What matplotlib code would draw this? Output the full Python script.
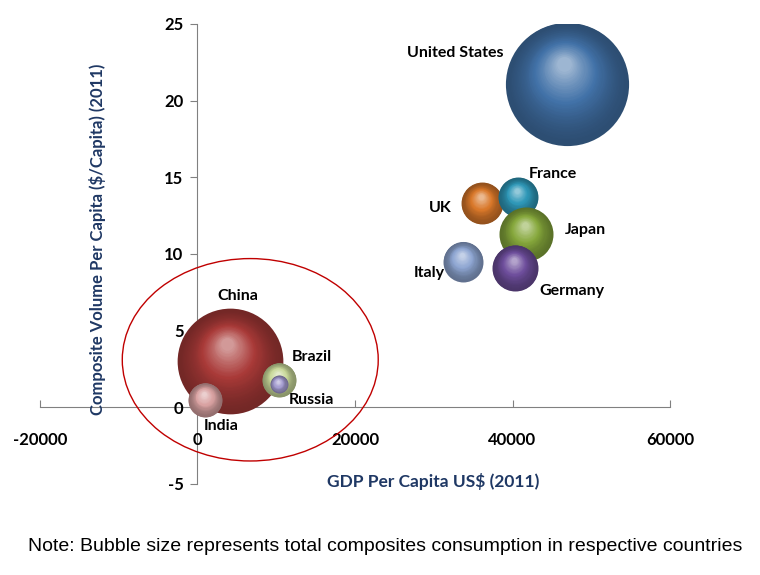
import matplotlib
matplotlib.use("Agg")
import matplotlib.pyplot as plt
import matplotlib.transforms as mtransforms
from matplotlib.patches import Ellipse
from matplotlib.colors import to_rgb
import numpy as np

countries = ["United States", "China", "UK", "France", "Japan", "Germany",
             "Italy", "Brazil", "Russia", "India"]
gdp_per_capita = [46900, 4100, 36100, 40700, 41700, 40300, 33700, 10300, 10300, 950]
volume_per_capita = [21.1, 3.0, 13.3, 13.7, 11.3, 9.1, 9.5, 1.8, 1.5, 0.5]
consumption = [3800, 2800, 440, 400, 730, 530, 400, 290, 80, 290]
colors = ["#4272a8", "#a93a38", "#d9782a", "#2f98b8", "#86a83c", "#6e4e9c",
          "#8ea6d2", "#c9d99a", "#a49cd0", "#d9a2a2"]
label_offsets = [(-80, 22), (6, 47), (-30, -3), (25, 17), (43, 3), (41, -17),
                 (-24, -8), (24, 16), (24, -11), (12, -19)]

x_ticks = [-20000, 0, 20000, 40000, 60000]
y_ticks = [-5, 0, 5, 10, 15, 20, 25]

BOLD = "Lato"
NAVY = "#1f3864"


def shade(c, f):
    c = np.array(to_rgb(c))
    if f < 0:
        return tuple(c * (1 + f))
    return tuple(c + (1 - c) * f)


def offset(fig, dx, dy):
    return mtransforms.ScaledTranslation(dx / 72.0, dy / 72.0, fig.dpi_scale_trans)


def draw_bubble(ax, fig, x, y, s, color):
    # fake a lit sphere with stacked discs moving toward the highlight
    r = np.sqrt(s) / 2.0
    n = 40
    for i in range(n):
        t = i / (n - 1)
        frac = 1 - 0.88 * t
        col = shade(color, -0.32 + 0.80 * t ** 1.6)
        ax.scatter([x], [y], s=s * frac ** 2, color=col, linewidths=0,
                   transform=ax.transData + offset(fig, -0.05 * r * t, 0.32 * r * t),
                   zorder=3)


fig = plt.figure(figsize=(7.6, 5.75), dpi=100)
ax = fig.add_axes([0.0526, 0.1583, 0.8290, 0.8000])
ax.set_xlim(-20000, 60000)
ax.set_ylim(-5, 25)

for x, y, c, col in zip(gdp_per_capita, volume_per_capita, consumption, colors):
    draw_bubble(ax, fig, x, y, c * 2.07, col)

for name, x, y, off in zip(countries, gdp_per_capita, volume_per_capita, label_offsets):
    ax.annotate(name, (x, y), xytext=off, textcoords="offset points",
                ha="center", va="center", fontsize=11.5, fontweight="bold",
                family=BOLD, color="black", zorder=5)

ax.add_patch(Ellipse((6700, 3.1), 32500, 13.2, fill=False, edgecolor="#c00000",
                     linewidth=1.0, zorder=4))

for side in ["top", "right"]:
    ax.spines[side].set_visible(False)
for side in ["left", "bottom"]:
    ax.spines[side].set_position(("data", 0))
    ax.spines[side].set_color("#808080")
    ax.spines[side].set_zorder(1)

ax.set_xticks(x_ticks)
ax.set_yticks(y_ticks)
ax.set_xticklabels([str(v) for v in x_ticks])
ax.set_yticklabels([str(v) for v in y_ticks])
ax.tick_params(axis="x", direction="in", length=5, pad=18, color="#808080")
ax.tick_params(axis="y", direction="out", length=5, pad=5, color="#808080")
for lbl in ax.get_xticklabels() + ax.get_yticklabels():
    lbl.set_fontfamily(BOLD)
    lbl.set_fontweight("bold")
    lbl.set_fontsize(12)

fig.text(0.570, 0.162, "GDP Per Capita US$ (2011)", ha="center", va="center",
         fontsize=12.5, fontweight="bold", family=BOLD, color=NAVY)
fig.text(0.128, 0.583, "Composite Volume Per Capita ($/Capita) (2011)", ha="center",
         va="center", rotation=90, fontsize=12, fontweight="bold", family=BOLD,
         color=NAVY)
fig.text(0.507, 0.049, "Note: Bubble size represents total composites consumption in respective countries",
         ha="center", va="center", fontsize=14, family="Liberation Sans", color="black")

fig.savefig("out.png", dpi=100)
